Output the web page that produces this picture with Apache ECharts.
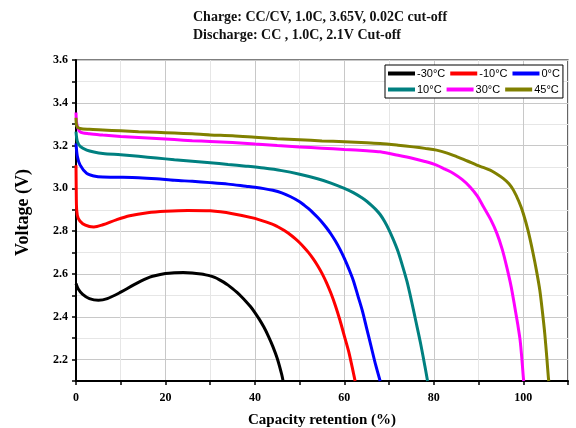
<!DOCTYPE html>
<html>
<head>
<meta charset="utf-8">
<script src="https://cdn.jsdelivr.net/npm/echarts@6/dist/echarts.min.js"></script>
<style>
  html, body { margin: 0; padding: 0; background: #fff; }
  #chart { width: 576px; height: 428px; }
</style>
</head>
<body>
<div id="chart"></div>
<script>
const seriesNames = ['-30°C', '-10°C', '0°C', '10°C', '30°C', '45°C']
const seriesColors = ['#000000', '#ff0000', '#0000ff', '#008080', '#ff00ff', '#808000']

const capM30 = [0, 0.5, 1.5, 3, 5, 7, 10, 13, 16.5, 20, 22, 24, 26, 28, 29, 30, 31, 32, 33, 34, 35, 36, 37, 38, 39, 40, 41, 42, 43, 44, 45, 46, 46.3]
const voltM30 = [2.556, 2.53, 2.505, 2.485, 2.477, 2.485, 2.515, 2.55, 2.585, 2.602, 2.606, 2.607, 2.605, 2.6, 2.596, 2.591, 2.584, 2.574, 2.562, 2.548, 2.532, 2.514, 2.494, 2.472, 2.448, 2.42, 2.388, 2.352, 2.31, 2.262, 2.205, 2.13, 2.1]

const capM10 = [0, 0.05, 0.15, 0.5, 1.5, 3, 4, 6, 9, 12, 16, 20, 25, 30, 35, 40, 44, 45, 46, 47, 48, 49, 50, 51, 52, 53, 54, 55, 56, 57, 58, 59, 60, 61, 62, 62.4]
const voltM10 = [3.108, 3.0, 2.9, 2.86, 2.835, 2.822, 2.82, 2.83, 2.853, 2.872, 2.886, 2.893, 2.897, 2.895, 2.882, 2.86, 2.832, 2.822, 2.81, 2.797, 2.782, 2.765, 2.746, 2.724, 2.7, 2.672, 2.64, 2.603, 2.56, 2.51, 2.452, 2.385, 2.31, 2.235, 2.14, 2.1]

const cap0 = [0, 0.3, 0.9, 2.4, 4, 6, 10, 14, 18, 22, 26, 30, 34, 38, 40, 42, 44, 46, 48, 50, 51, 52, 53, 54, 55, 56, 57, 58, 59, 60, 61, 62, 63, 64, 65, 66, 67, 68]
const volt0 = [3.21, 3.15, 3.11, 3.07, 3.058, 3.053, 3.052, 3.05, 3.045, 3.038, 3.033, 3.027, 3.02, 3.01, 3.005, 2.999, 2.991, 2.979, 2.961, 2.938, 2.922, 2.905, 2.886, 2.865, 2.842, 2.816, 2.787, 2.754, 2.716, 2.673, 2.624, 2.57, 2.5, 2.43, 2.345, 2.26, 2.175, 2.1]

const cap10 = [0, 0.3, 1, 2.4, 4, 6, 10, 14, 18, 22, 26, 30, 34, 38, 42, 46, 50, 54, 57, 60, 62, 64, 65, 66, 67, 68, 69, 70, 71, 72, 73, 74, 75, 76, 77, 78, 78.6]
const volt10 = [3.265, 3.22, 3.195, 3.179, 3.17, 3.163, 3.157, 3.15, 3.142, 3.134, 3.127, 3.12, 3.112, 3.104, 3.095, 3.083, 3.066, 3.045, 3.025, 3.0, 2.98, 2.955, 2.94, 2.922, 2.902, 2.878, 2.845, 2.805, 2.758, 2.705, 2.638, 2.565, 2.475, 2.378, 2.28, 2.17, 2.1]

const cap30 = [0, 0.2, 0.9, 3, 6, 10, 14, 18, 22, 26, 30, 35, 40, 45, 50, 55, 60, 65, 68, 72, 75.4, 78, 80.6, 82.5, 84.4, 86.3, 88.1, 89.7, 91.1, 92.7, 94.1, 95.3, 96.3, 97.3, 98.1, 98.8, 99.3, 99.7, 100, 100.1]
const volt30 = [3.355, 3.3, 3.265, 3.255, 3.249, 3.243, 3.238, 3.233, 3.228, 3.223, 3.219, 3.214, 3.207, 3.2, 3.194, 3.188, 3.182, 3.176, 3.171, 3.155, 3.14, 3.126, 3.109, 3.09, 3.07, 3.042, 3.007, 2.965, 2.914, 2.855, 2.79, 2.715, 2.633, 2.54, 2.446, 2.36, 2.29, 2.2, 2.12, 2.1]

const cap45 = [0, 0.2, 0.9, 3, 6, 10, 14, 18, 22, 26, 30, 35, 40, 45, 50, 55, 60, 65, 68, 72, 75.4, 78, 80.6, 83, 85.1, 87.5, 89.6, 91, 92.6, 94, 95.5, 96.8, 97.8, 99, 100, 101.1, 102.2, 103, 103.7, 104.3, 104.8, 105.3, 105.6, 105.7]
const volt45 = [3.33, 3.29, 3.28, 3.276, 3.273, 3.269, 3.265, 3.262, 3.259, 3.255, 3.25, 3.246, 3.239, 3.232, 3.227, 3.222, 3.218, 3.213, 3.21, 3.202, 3.194, 3.187, 3.179, 3.165, 3.148, 3.128, 3.109, 3.098, 3.085, 3.068, 3.047, 3.022, 2.992, 2.94, 2.883, 2.8, 2.696, 2.61, 2.524, 2.42, 2.322, 2.2, 2.119, 2.1]

const capData = [capM30, capM10, cap0, cap10, cap30, cap45]
const voltData = [voltM30, voltM10, volt0, volt10, volt30, volt45]

const serif = 'Liberation Serif'

const chart = echarts.init(document.getElementById('chart'))

const option = {
  animation: false,
  title: {
    text: 'Charge: CC/CV, 1.0C, 3.65V, 0.02C cut-off\nDischarge: CC , 1.0C, 2.1V Cut-off',
    left: 193,
    top: 8,
    padding: 0,
    textStyle: {
      fontFamily: serif,
      fontWeight: 'bold',
      fontSize: 14,
      lineHeight: 18,
      color: '#111',
    },
  },
  legend: {
    data: seriesNames,
    left: 385,
    top: 65,
    width: 178,
    padding: [3, 3],
    itemGap: 5,
    itemWidth: 27,
    itemHeight: 4,
    icon: 'rect',
    borderColor: '#000',
    borderWidth: 1,
    backgroundColor: '#fff',
    textStyle: {
      fontFamily: 'Liberation Sans',
      fontSize: 11,
      lineHeight: 9,
      color: '#000',
      padding: [0, 0, 0, -3],
    },
  },
  grid: {
    left: 76,
    right: 8,
    top: 60,
    bottom: 47,
    outerBoundsMode: 'none',
    show: true,
    borderColor: '#000',
    borderWidth: 1.2,
  },
  xAxis: {
    type: 'value',
    min: 0,
    max: 110,
    interval: 10,
    name: 'Capacity retention (%)',
    nameLocation: 'middle',
    nameGap: 32,
    nameTextStyle: { fontFamily: serif, fontWeight: 'bold', fontSize: 15, color: '#000' },
    axisLine: { lineStyle: { color: '#000', width: 2 } },
    axisTick: { length: 4, lineStyle: { color: '#000', width: 1.5 } },
    axisLabel: {
      fontFamily: serif,
      fontWeight: 'bold',
      fontSize: 12,
      color: '#000',
      margin: 11,
      formatter: v => (v % 20 === 0 && v <= 100 ? String(v) : ''),
    },
    splitLine: { show: true, lineStyle: { color: ['#c8c8c8', '#e6e6e6'], width: 1 } },
  },
  yAxis: {
    type: 'value',
    min: 2.1,
    max: 3.6,
    interval: 0.1,
    name: 'Voltage (V)',
    nameLocation: 'middle',
    nameGap: 44,
    nameTextStyle: {
      fontFamily: serif,
      fontWeight: 'bold',
      fontSize: 18,
      color: '#000',
      padding: [0, 0, 0, 16],
    },
    axisLine: { show: true, lineStyle: { color: '#000', width: 2 } },
    axisTick: { show: true, length: 4, lineStyle: { color: '#000', width: 1.5 } },
    axisLabel: {
      fontFamily: serif,
      fontWeight: 'bold',
      fontSize: 12,
      color: '#000',
      margin: 8,
      formatter: v => (Math.round(v * 10) % 2 === 0 && v > 2.15 ? v.toFixed(1) : ''),
    },
    splitLine: { show: true, lineStyle: { color: ['#e6e6e6', '#c8c8c8'], width: 1 } },
  },
  series: seriesNames.map((name, i) => ({
    name,
    type: 'line',
    showSymbol: false,
    symbol: 'none',
    smooth: 0.3,
    color: seriesColors[i],
    lineStyle: { width: 3, color: seriesColors[i] },
    data: capData[i].map((c, j) => [c, voltData[i][j]]),
  })),
}

chart.setOption(option)
</script>
</body>
</html>
